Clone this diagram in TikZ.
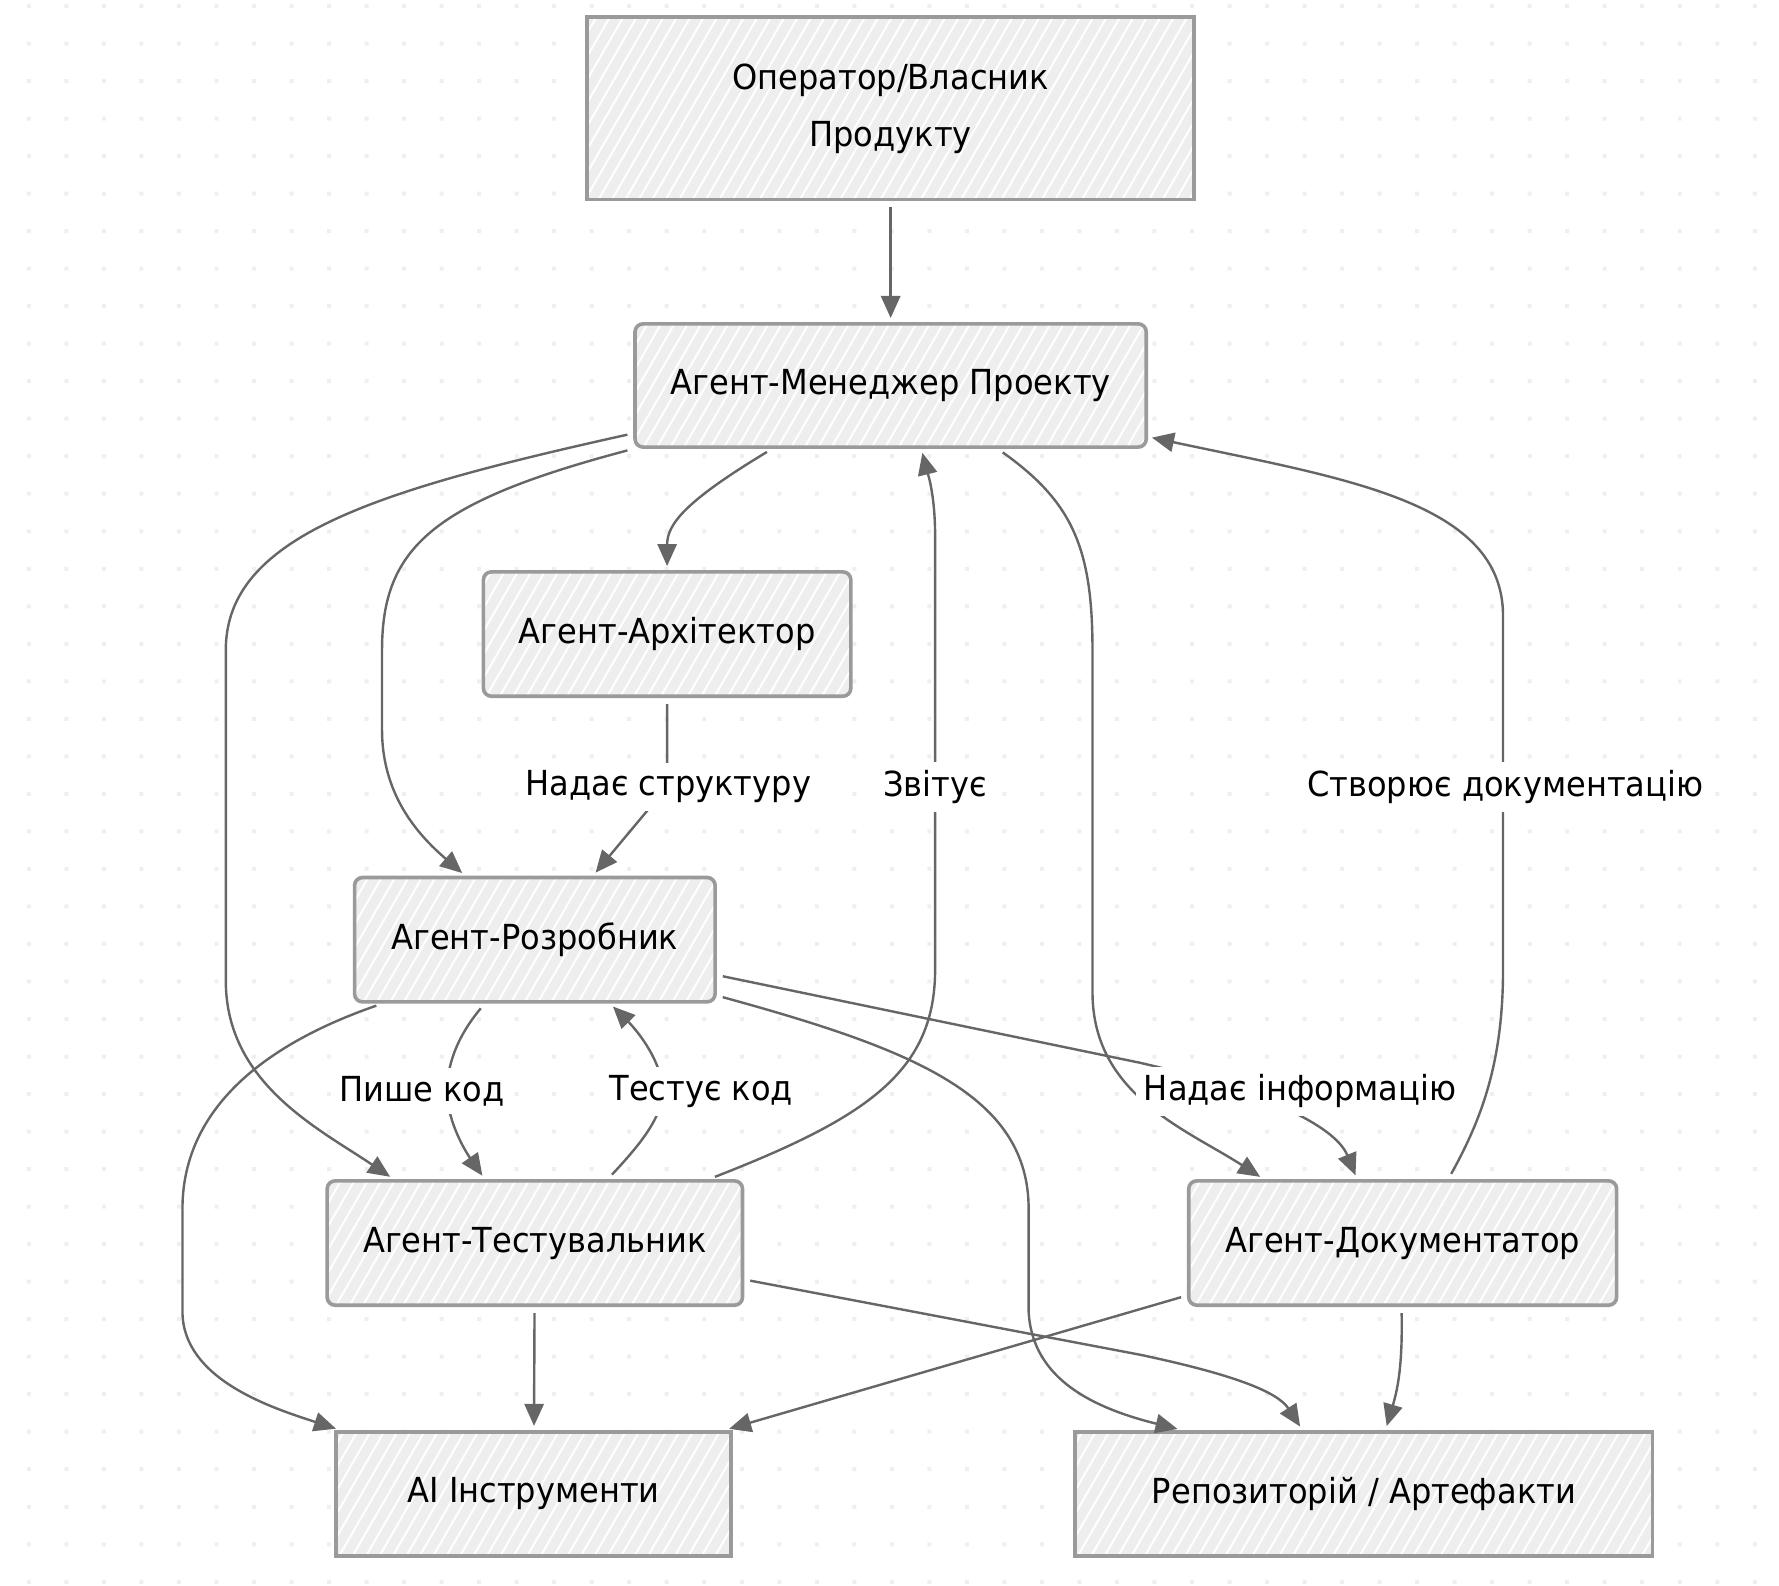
\documentclass[tikz,border=0pt]{standalone}
\usepackage{fontspec}
\setmainfont{DejaVu Sans}[FakeStretch=0.93]
\usetikzlibrary{arrows.meta,patterns.meta}
\definecolor{edgegray}{HTML}{666666}
\definecolor{boxline}{HTML}{9A9A9A}
\definecolor{boxfill}{HTML}{EEEEEE}
\definecolor{dotgray}{HTML}{EFEFEF}
\begin{document}
\begin{tikzpicture}[x=0.01cm, y=-0.01cm,
    agent/.style={draw=boxline, line width=0.9pt, rounded corners=2pt,
      minimum height=1.09cm, inner sep=0pt, preaction={fill=boxfill},
      pattern={Lines[angle=60, distance=2.9pt, line width=0.5pt]}, pattern color=white,
      font=\fontsize{8.6}{14.2}\selectfont},
    plainbox/.style={agent, sharp corners},
    flow/.style={draw=edgegray, line width=0.6pt, shorten <=1.5pt, shorten >=1pt,
      -{Triangle[length=5.5pt, width=4.8pt]}},
    lbl/.style={fill=white, inner sep=2pt, font=\fontsize{8.6}{10}\selectfont}]
        \useasboundingbox (0,0) rectangle (1560,1390);
        % dotted background
        \fill[dotgray] \foreach \i in {0,...,47} { \foreach \j in {0,...,42} {
          (23.6+32.9*\i, 3.5+32.9*\j) rectangle ++(3.5,3.5) } };
        % boxes
        \node[plainbox, minimum width=5.32cm, minimum height=1.6cm, align=center] (op) at (781,95) {Оператор/Власник\\Продукту};
        \node[agent, minimum width=4.48cm, minimum height=1.08cm] (pm) at (781,338) {Агент-Менеджер Проекту};
        \node[agent, minimum width=3.22cm] (arch) at (585,556) {Агент-Архітектор};
        \node[agent, minimum width=3.16cm] (dev) at (469,824) {Агент-Розробник};
        \node[agent, minimum width=3.64cm] (test) at (469,1090) {Агент-Тестувальник};
        \node[agent, minimum width=3.75cm] (doc) at (1230,1090) {Агент-Документатор};
        \node[plainbox, minimum width=3.46cm] (ai) at (468,1310) {AI Інструменти};
        \node[plainbox, minimum width=5.06cm] (repo) at (1196,1310) {Репозиторій / Артефакти};
        % connectors
        \draw[flow] (op) -- (pm);
        \draw[flow] (677,0 |- pm.south) .. controls (600,440) and (585,460) .. (585,0 |- arch.north);
        \draw[flow] (pm.south west) .. controls (380,440) and (335,480) .. (335,570) -- (335,640) .. controls (335,700) and (370,735) .. (408,0 |- dev.north);
        \draw[flow] (pm.west |- 0,380) .. controls (330,430) and (198,470) .. (198,570) -- (198,860) .. controls (198,950) and (280,990) .. (345,0 |- test.north);
        \draw[flow] (875,0 |- pm.south) .. controls (940,440) and (958,480) .. (958,570) -- (958,870) .. controls (958,960) and (1040,990) .. (1108,0 |- doc.north);
        \draw[flow] (arch) -- (585,690) -- (520,0 |- dev.north);
        \draw[flow] (622,0 |- test.north) .. controls (760,980) and (820,940) .. (820,850) -- (820,470) .. controls (820,430) and (812,410) .. (808,0 |- pm.south);
        \draw[flow] (1270,0 |- doc.north) .. controls (1300,980) and (1318,930) .. (1318,850) -- (1318,540) .. controls (1318,440) and (1180,420) .. (pm.east |- 0,383);
        \draw[flow] (425,0 |- dev.south) .. controls (400,910) and (392,935) .. (392,957) .. controls (392,980) and (405,1005) .. (425,0 |- test.north);
        \draw[flow] (533,0 |- test.north) .. controls (560,1005) and (581,980) .. (581,957) .. controls (581,932) and (560,905) .. (535,0 |- dev.south);
        \draw[flow] (dev.east |- 0,855) -- (1000,932) .. controls (1100,955) and (1170,985) .. (1190,0 |- doc.north);
        \draw[flow] (335,0 |- dev.south) .. controls (220,920) and (160,980) .. (160,1060) -- (160,1150) .. controls (160,1210) and (240,1235) .. (298,0 |- ai.north);
        \draw[flow] (dev.east |- 0,873) .. controls (800,920) and (902,960) .. (902,1060) -- (902,1150) .. controls (905,1210) and (960,1235) .. (1036,0 |- repo.north);
        \draw[flow] (test) -- (ai);
        \draw[flow] (test.east |- 0,1122) -- (1000,1188) .. controls (1080,1205) and (1120,1220) .. (1142,0 |- repo.north);
        \draw[flow] (doc.west |- 0,1136) -- (636,0 |- ai.north);
        \draw[flow] (1229,0 |- doc.south) .. controls (1230,1200) and (1225,1220) .. (1215,0 |- repo.north);
        % edge labels
        \node[lbl] (lstruct) at (586,690) {Надає структуру};
        \node[lbl] (lreport) at (820,690) {Звітує};
        \node[lbl] (ldocs) at (1320,690) {Створює документацію};
        \node[lbl] (lcode) at (370,957) {Пише код};
        \node[lbl] (ltest) at (615,957) {Тестує код};
        \node[lbl] (linfo) at (1140,957) {Надає інформацію};
\end{tikzpicture}
\end{document}
